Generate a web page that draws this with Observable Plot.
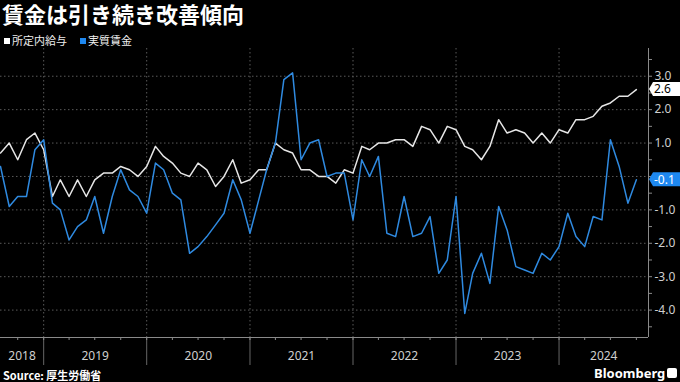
<!DOCTYPE html>
<html><head><meta charset="utf-8">
<script src="https://cdn.jsdelivr.net/npm/d3@7"></script>
<script src="https://cdn.jsdelivr.net/npm/@observablehq/plot@0.6"></script>
<style>
html,body{margin:0;padding:0;background:#000;}
body{width:680px;height:382px;overflow:hidden;position:relative;font-family:"Noto Sans CJK JP","Noto Sans",sans-serif;color:#fff;}
#title{position:absolute;left:2px;top:0px;font-size:22px;font-weight:bold;line-height:27px;white-space:nowrap;}
#legend{position:absolute;left:4px;top:32px;font-size:11px;line-height:16px;white-space:nowrap;color:#eee;}
#legend span.sw{display:inline-block;width:6px;height:6px;margin-right:2px;vertical-align:1px;}
#legend span.item{margin-right:13px;}
#chart{position:absolute;left:0;top:48px;}
#source{position:absolute;left:3px;top:367px;font-size:11px;font-weight:bold;line-height:16px;white-space:nowrap;}
#brand{position:absolute;left:594px;top:365px;font-family:"Noto Sans","Liberation Sans",sans-serif;font-size:13px;font-weight:bold;line-height:16px;}
#icon{position:absolute;left:667px;top:368px;width:10px;height:10px;background:#fff;border-radius:2px;}
</style>
</head><body>
<div id="title">賃金は引き続き改善傾向</div>
<div id="legend"></div>
<div id="chart"></div>
<div id="source">Source: 厚生労働省</div>
<div id="brand">Bloomberg</div>
<div id="icon"><svg width="10" height="10"><rect x="2.5" y="5" width="1.3" height="3" fill="#000"/><rect x="4.5" y="3" width="1.3" height="5" fill="#000"/><rect x="6.5" y="4" width="1.3" height="4" fill="#000"/></svg></div>
<script>
// Series names and colours
const seriesNames = ["所定内給与", "実質賃金"];
const seriesColors = ["#e6e6e6", "#2f8ae0"];

// Monthly values, Jul 2018 .. Sep 2024 (% y/y)
const scheduled = [
  0.7, 1.0, 0.5, 1.1, 1.3, 0.8,
  -0.6, -0.1, -0.6, -0.1, -0.6, -0.1, 0.1, 0.1, 0.3, 0.2, 0.0, 0.3,
  0.9, 0.6, 0.4, 0.1, 0.0, 0.4, 0.2, -0.3, 0.0, 0.5, -0.2, -0.1,
  0.2, 0.2, 1.0, 0.8, 0.7, 0.2, 0.2, 0.0, 0.0, -0.2, 0.2, 0.1,
  0.9, 0.8, 1.0, 1.0, 1.1, 1.1, 0.9, 1.5, 1.4, 1.0, 1.5, 1.4,
  0.9, 0.8, 0.5, 0.9, 1.7, 1.3, 1.4, 1.3, 1.0, 1.3, 1.0, 1.4,
  1.3, 1.7, 1.7, 1.8, 2.1, 2.2, 2.4, 2.4, 2.6
];
const real = [
  0.3, -0.9, -0.6, -0.6, 0.8, 1.1,
  -0.8, -1.0, -1.9, -1.5, -1.3, -0.6, -1.7, -0.6, 0.2, -0.4, -0.6, -1.1,
  0.4, 0.2, -0.5, -0.7, -2.3, -2.1, -1.8, -1.45, -1.1, -0.1, -0.7, -1.7,
  -0.7, 0.2, 1.0, 2.9, 3.1, 0.5, 1.0, 1.1, 0.0, 0.1, 0.1, -1.3,
  0.5, 0.0, 0.6, -1.7, -1.8, -0.6, -1.8, -1.7, -1.2, -2.9, -2.5, -0.6,
  -4.1, -2.9, -2.3, -3.2, -0.9, -1.6, -2.7, -2.8, -2.9, -2.3, -2.5, -2.1,
  -1.1, -1.8, -2.1, -1.2, -1.3, 1.1, 0.3, -0.8, -0.1
];

// Axis ticks / labels (the 0.0 label sits under the last-value tag)
const yTicks = [-4, -3, -2, -1, 0, 1, 2, 3];
const yLabelTicks = [-4, -3, -2, -1, 1, 2, 3];
const yHalfTicks = [-4.5, -3.5, -2.5, -1.5, -0.5, 0.5, 1.5, 2.5, 3.5];
const yearLabels = ["2018", "2019", "2020", "2021", "2022", "2023", "2024"];

// Month categories (each value plotted at month end)
const firstMonth = new Date(Date.UTC(2018, 6, 1));
const months = d3.utcMonth.range(firstMonth, d3.utcMonth.offset(firstMonth, scheduled.length));
const xStart = new Date(Date.UTC(2018, 7, 1));
const xEnd = new Date(Date.UTC(2024, 10, 13));

const table = [];
months.forEach((m, i) => {
  const date = d3.utcMonth.offset(m, 1);
  table.push({date, value: scheduled[i], series: seriesNames[0]});
  table.push({date, value: real[i], series: seriesNames[1]});
});

const yearStarts = yearLabels.slice(1).map(y => new Date(Date.UTC(+y, 0, 1)));
const yearMids = yearLabels.map(y => {
  const a = Math.max(+new Date(Date.UTC(+y, 0, 1)), +xStart);
  const b = Math.min(+new Date(Date.UTC(+y + 1, 0, 1)), +xEnd);
  return {label: y, mid: new Date((a + b) / 2)};
});
const quarterTicks = d3.utcMonth.every(3).range(xStart, xEnd);

// Legend
document.getElementById("legend").innerHTML = seriesNames.map((n, i) =>
  `<span class="item"><span class="sw" style="background:${i === 0 ? "#fff" : "#1e88f0"}"></span>${n}</span>`).join("");

const yDomain = [-4.82, 3.83];
const plot = Plot.plot({
  width: 680,
  height: 320,
  marginLeft: 0,
  marginRight: 32,
  marginTop: 0,
  marginBottom: 31,
  style: {background: "#000", color: "#cfcfcf", fontFamily: "'Noto Sans', sans-serif", fontSize: "12px", overflow: "visible"},
  x: {type: "utc", domain: [xStart, xEnd], label: null},
  y: {domain: yDomain, label: null},
  color: {domain: seriesNames, range: seriesColors},
  marks: [
    Plot.ruleY(yTicks, {stroke: "#5a5a5a", strokeDasharray: "1.5,2.5"}),
    Plot.ruleX(yearStarts, {stroke: "#5a5a5a", strokeDasharray: "1.5,2.5"}),
    Plot.ruleX(yearStarts, {stroke: "#666", insetTop: 289, insetBottom: -28}),
    Plot.line(table, {x: "date", y: "value", stroke: "series", z: "series", strokeWidth: 1.5}),
    Plot.ruleY([yDomain[0]], {stroke: "#8a8a8a"}),
    Plot.ruleX([xEnd], {stroke: "#8a8a8a"}),
    Plot.axisX(quarterTicks, {tickSize: 3, tickFormat: () => "", label: null, stroke: "#8a8a8a"}),
    Plot.text(yearMids, {x: "mid", text: "label", frameAnchor: "bottom", dy: 22, fill: "#cfcfcf", fontSize: 12}),
    Plot.axisY(yHalfTicks.concat([0]), {anchor: "right", tickSize: 3, tickFormat: () => "", label: null, stroke: "#8a8a8a"}),
    Plot.axisY(yLabelTicks, {anchor: "right", tickSize: 3, tickPadding: 3, tickFormat: d => d.toFixed(1), label: null, stroke: "#8a8a8a", fill: "#cfcfcf", fontSize: 12})
  ]
});
document.getElementById("chart").appendChild(plot);

// Last-value tags on the right axis
const ys = plot.scale("y");
const xs = plot.scale("x");
const svg = d3.select(plot);
const tags = [
  {value: scheduled[scheduled.length - 1], bg: "#ffffff", fg: "#000"},
  {value: real[real.length - 1], bg: "#1e88f0", fg: "#fff"}
];
tags.forEach(t => {
  const y = ys.apply(t.value);
  const x0 = xs.apply(xEnd) + 1;
  const g = svg.append("g");
  g.append("path")
    .attr("d", `M${x0},${y} L${x0 + 4},${y - 7} L680,${y - 7} L680,${y + 7} L${x0 + 4},${y + 7} Z`)
    .attr("fill", t.bg);
  g.append("text")
    .attr("x", x0 + 5).attr("y", y).attr("dy", "0.36em")
    .attr("text-anchor", "start")
    .attr("fill", t.fg).attr("font-size", 12)
    .attr("font-family", "'Noto Sans', sans-serif")
    .text(t.value.toFixed(1));
});
</script>
</body></html>
